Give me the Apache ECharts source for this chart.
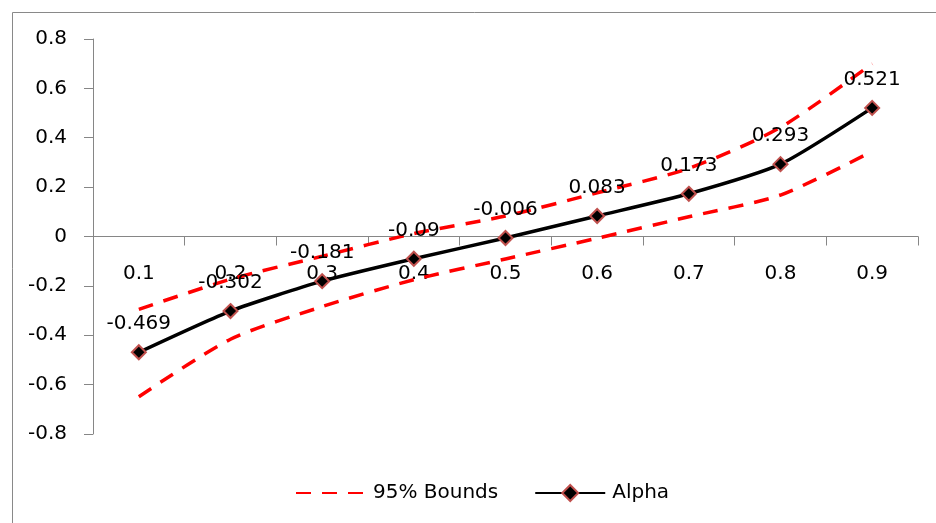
<!DOCTYPE html>
<html>
<head>
<meta charset="utf-8">
<script src="https://cdn.jsdelivr.net/npm/echarts@6/dist/echarts.min.js"></script>
<style>
html,body{margin:0;padding:0;background:#fff;}
#chart{width:936px;height:523px;}
</style>
</head>
<body>
<div id="chart"></div>
<script>
const categories = ['0.1','0.2','0.3','0.4','0.5','0.6','0.7','0.8','0.9'];
const alpha = [-0.469, -0.302, -0.181, -0.09, -0.006, 0.083, 0.173, 0.293, 0.521];
const upperBound = [-0.295, -0.173, -0.08, 0.012, 0.083, 0.177, 0.276, 0.442, 0.70];
const lowerBound = [-0.649, -0.416, -0.284, -0.175, -0.091, -0.007, 0.080, 0.168, 0.345];
const yMin = -0.8, yMax = 0.8, yStep = 0.2;

const FONT = 'DejaVu Sans';
const GRID_TOP = 39, GRID_BOTTOM = 89, H = 523;
const zeroOffset = -((H - GRID_TOP - GRID_BOTTOM) * (0 - yMin) / (yMax - yMin));
const chart = echarts.init(document.getElementById('chart'));
const boundStyle = {color:'#FF0000', width:3.5, type:[15,11]};
chart.setOption({
  animation:false,
  backgroundColor:'#fff',
  graphic:[{
    type:'rect', left:10, top:10, z:-1,
    shape:{width:1000, height:1000},
    style:{fill:'none', stroke:'#898989', lineWidth:1}
  }],
  grid:{left:93, right:18, top:GRID_TOP, bottom:GRID_BOTTOM, containLabel:false},
  legend:{
    left:290, top:478, itemWidth:70, itemHeight:20, itemGap:36,
    data:[{name:'95% Bounds', itemStyle:{opacity:0}}, 'Alpha'],
    textStyle:{fontFamily:FONT, fontSize:20, color:'#000', padding:[0,0,0,2]}
  },
  xAxis:{
    type:'category', data:categories, boundaryGap:true,
    offset:zeroOffset,
    axisLine:{onZero:false, lineStyle:{color:'#868686', width:1}},
    axisTick:{show:true, length:9, alignWithLabel:false, lineStyle:{color:'#868686'}},
    axisLabel:{interval:0, margin:27, fontFamily:FONT, fontSize:20, color:'#000'},
    splitLine:{show:false}
  },
  yAxis:{
    type:'value', min:yMin, max:yMax, interval:yStep,
    axisLine:{show:true, lineStyle:{color:'#868686', width:1}},
    axisTick:{show:true, length:9, lineStyle:{color:'#868686'}},
    axisLabel:{margin:26, fontFamily:FONT, fontSize:20, color:'#000'},
    splitLine:{show:false}
  },
  series:[
    {name:'95% Bounds', type:'line', data:upperBound, smooth:0.25, symbol:'none',
     lineStyle:boundStyle, itemStyle:{color:'#FF0000'}, z:2},
    {name:'95% Bounds', type:'line', data:lowerBound, smooth:0.25, symbol:'none',
     lineStyle:boundStyle, itemStyle:{color:'#FF0000'}, z:2},
    {name:'Alpha', type:'line', data:alpha, smooth:0.2, symbol:'diamond', symbolSize:14,
     lineStyle:{color:'#000', width:3.5},
     itemStyle:{color:'#000', borderColor:'#C0504D', borderWidth:2},
     label:{show:true, position:'top', distance:10, fontFamily:FONT, fontSize:20, color:'#000'},
     z:3}
  ]
});
</script>
</body>
</html>
